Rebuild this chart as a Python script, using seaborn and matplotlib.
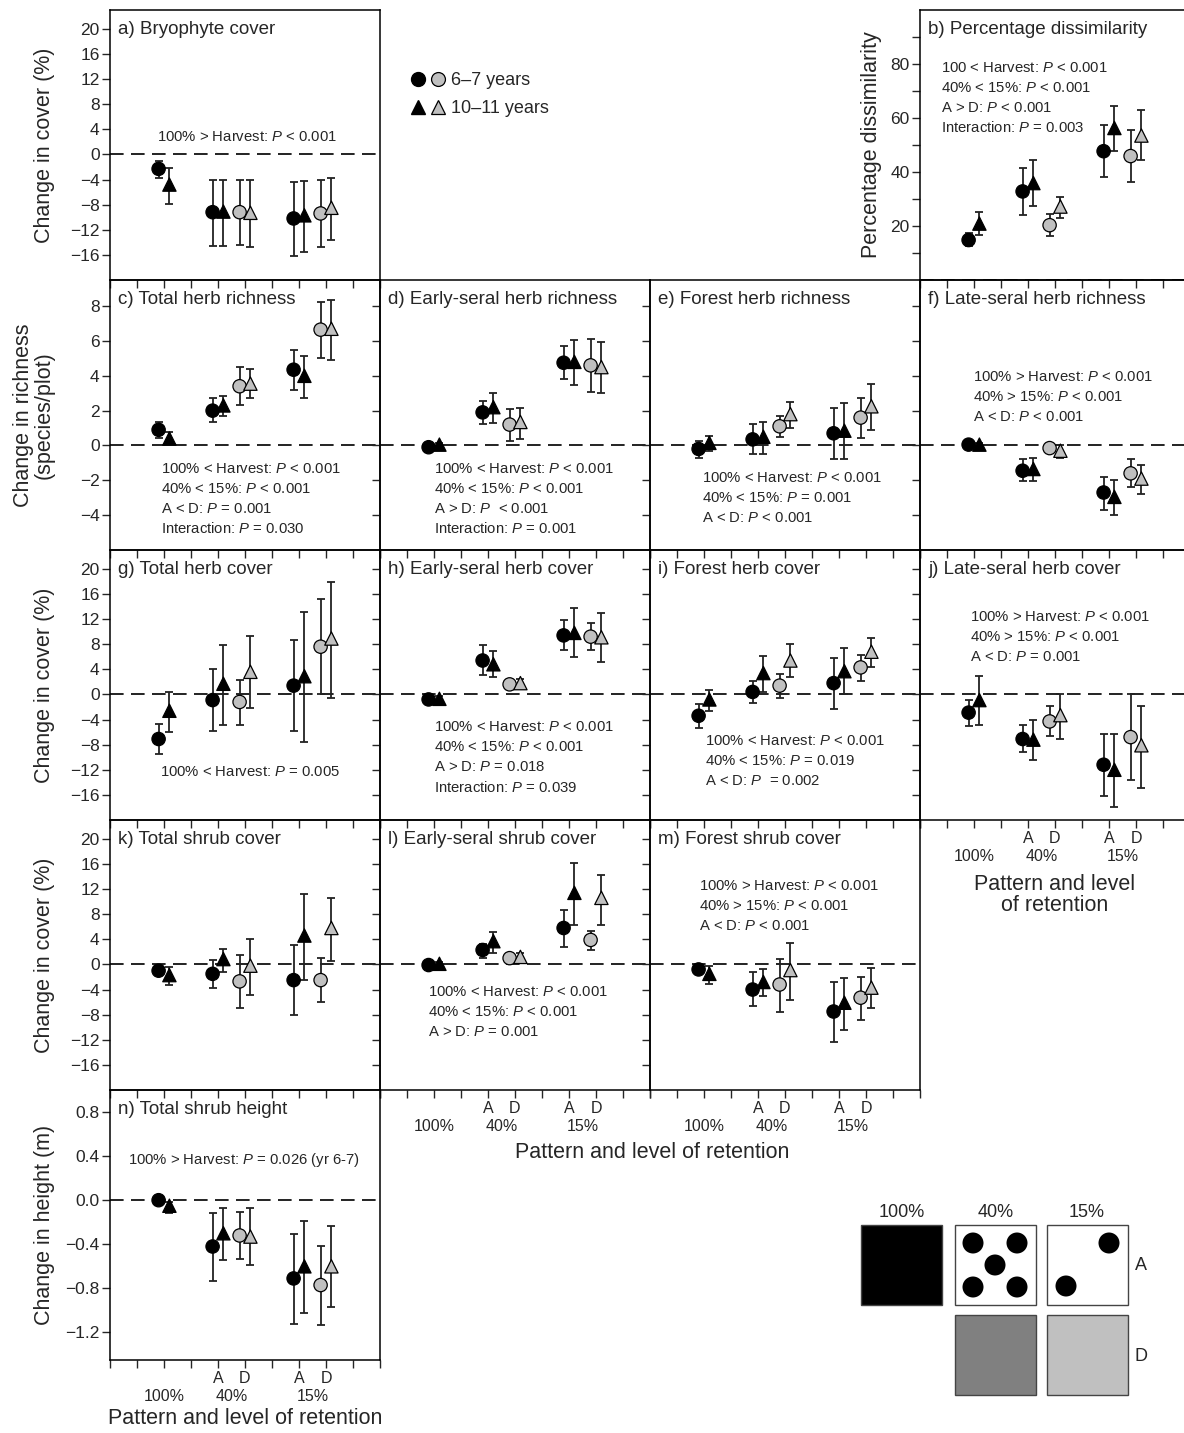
import numpy as np
import pandas as pd
import matplotlib
matplotlib.use("Agg")
import matplotlib.pyplot as plt
import matplotlib.transforms as mtransforms
import seaborn as sns
from matplotlib.lines import Line2D
from matplotlib.legend_handler import HandlerTuple
from matplotlib.patches import Rectangle, Circle

# treatment groups and sampling periods
groups = ["100%", "40% A", "40% D", "15% A", "15% D"]
years = ["6–7 years", "10–11 years"]

# (mean, lower, upper) per group
a_yr67 = [(-2.3, -3.7, -1.0), (-9.2, -14.6, -4.0), (-9.2, -14.5, -4.0), (-10.2, -16.1, -4.4), (-9.4, -14.8, -4.0)]
a_yr1011 = [(-4.8, -7.9, -2.1), (-9.1, -14.6, -4.0), (-9.3, -14.8, -4.0), (-9.7, -15.5, -4.2), (-8.5, -13.6, -3.7)]

b_yr67 = [(14.8, 12.5, 17.3), (32.8, 24.0, 41.5), (20.3, 16.3, 24.6), (47.7, 38.0, 57.3), (45.9, 36.2, 55.6)]
b_yr1011 = [(20.9, 16.6, 25.2), (35.9, 27.5, 44.3), (27.2, 23.0, 30.8), (56.3, 47.8, 64.6), (53.5, 44.5, 62.9)]

c_yr67 = [(0.9, 0.45, 1.35), (2.0, 1.35, 2.7), (3.4, 2.3, 4.5), (4.35, 3.2, 5.5), (6.65, 5.05, 8.25)]
c_yr1011 = [(0.4, 0.0, 0.8), (2.3, 1.7, 2.85), (3.55, 2.7, 4.4), (4.0, 2.75, 5.15), (6.7, 4.9, 8.35)]

d_yr67 = [(-0.1, -0.2, 0.0), (1.9, 1.25, 2.55), (1.2, 0.25, 2.1), (4.75, 3.8, 5.7), (4.6, 3.05, 6.1)]
d_yr1011 = [(0.05, -0.05, 0.15), (2.2, 1.3, 3.0), (1.35, 0.4, 2.15), (4.8, 3.5, 6.05), (4.5, 3.0, 5.95)]

e_yr67 = [(-0.2, -0.7, 0.25), (0.35, -0.5, 1.25), (1.1, 0.5, 1.7), (0.7, -0.8, 2.15), (1.6, 0.45, 2.7)]
e_yr1011 = [(0.15, -0.3, 0.55), (0.5, -0.5, 1.35), (1.8, 1.0, 2.5), (0.85, -0.8, 2.45), (2.25, 0.9, 3.55)]

f_yr67 = [(0.05, -0.05, 0.15), (-1.45, -2.05, -0.8), (-0.15, -0.25, -0.05), (-2.7, -3.7, -1.8), (-1.6, -2.4, -0.8)]
f_yr1011 = [(0.05, -0.05, 0.15), (-1.35, -2.05, -0.7), (-0.3, -0.7, 0.0), (-2.95, -4.0, -2.0), (-1.9, -2.8, -1.1)]

g_yr67 = [(-7.1, -9.5, -4.7), (-0.9, -5.9, 4.1), (-1.2, -4.9, 2.3), (1.4, -5.8, 8.6), (7.6, 0.0, 15.2)]
g_yr1011 = [(-2.6, -6.0, 0.4), (1.7, -4.9, 7.8), (3.6, -2.2, 9.3), (2.9, -7.6, 13.2), (8.9, -0.5, 17.9)]

h_yr67 = [(-0.8, -1.3, -0.3), (5.4, 3.1, 7.8), (1.6, 1.0, 2.2), (9.4, 7.1, 11.8), (9.2, 7.0, 11.3)]
h_yr1011 = [(-0.7, -1.1, -0.3), (4.8, 2.8, 6.9), (1.8, 1.2, 2.4), (9.8, 5.9, 13.7), (9.1, 5.2, 12.9)]

i_yr67 = [(-3.4, -5.3, -1.6), (0.4, -1.4, 2.2), (1.4, -0.5, 3.2), (1.8, -2.4, 5.8), (4.3, 2.2, 6.3)]
i_yr1011 = [(-0.8, -2.7, 0.7), (3.4, 0.4, 6.1), (5.4, 2.7, 8.0), (3.7, 0.0, 7.4), (6.8, 4.3, 9.0)]

j_yr67 = [(-2.9, -5.1, -0.9), (-7.1, -9.2, -4.8), (-4.3, -6.7, -1.9), (-11.2, -16.2, -6.3), (-6.8, -13.6, 0.0)]
j_yr1011 = [(-0.9, -4.9, 2.9), (-7.2, -10.5, -4.0), (-3.3, -7.1, 0.0), (-12.0, -18.0, -6.3), (-8.1, -14.9, -1.9)]

k_yr67 = [(-1.0, -1.5, -0.5), (-1.5, -3.8, 0.7), (-2.7, -6.9, 1.5), (-2.5, -8.1, 3.1), (-2.5, -6.0, 1.1)]
k_yr1011 = [(-1.7, -3.2, -0.4), (0.85, -1.2, 2.4), (-0.2, -4.9, 4.0), (4.6, -2.5, 11.2), (5.8, 0.5, 10.5)]

l_yr67 = [(-0.1, -0.5, 0.3), (2.3, 1.1, 3.3), (1.0, 0.6, 1.4), (5.8, 2.7, 8.7), (3.9, 2.3, 5.3)]
l_yr1011 = [(0.1, -0.2, 0.4), (3.7, 1.8, 5.2), (1.2, 0.5, 1.8), (11.4, 6.2, 16.2), (10.6, 6.3, 14.3)]

m_yr67 = [(-0.8, -1.3, -0.3), (-4.0, -6.7, -1.2), (-3.2, -7.5, 0.8), (-7.5, -12.3, -2.8), (-5.3, -8.8, -2.0)]
m_yr1011 = [(-1.5, -3.1, -0.3), (-2.8, -5.1, -0.7), (-0.9, -5.6, 3.4), (-6.1, -10.4, -2.1), (-3.7, -7.0, -0.6)]

n_yr67 = [(0.0, -0.04, 0.04), (-0.42, -0.73, -0.12), (-0.32, -0.53, -0.11), (-0.71, -1.12, -0.31), (-0.77, -1.13, -0.42)]
n_yr1011 = [(-0.05, -0.12, -0.02), (-0.3, -0.54, -0.07), (-0.33, -0.59, -0.07), (-0.6, -1.02, -0.19), (-0.6, -0.97, -0.23)]

panel_data = {
    "a": (a_yr67, a_yr1011), "b": (b_yr67, b_yr1011), "c": (c_yr67, c_yr1011),
    "d": (d_yr67, d_yr1011), "e": (e_yr67, e_yr1011), "f": (f_yr67, f_yr1011),
    "g": (g_yr67, g_yr1011), "h": (h_yr67, h_yr1011), "i": (i_yr67, i_yr1011),
    "j": (j_yr67, j_yr1011), "k": (k_yr67, k_yr1011), "l": (l_yr67, l_yr1011),
    "m": (m_yr67, m_yr1011), "n": (n_yr67, n_yr1011),
}

# x layout of the groups and the year offset
group_x = [2, 4, 5, 7, 8]
year_shift = [-0.2, 0.2]

rows = []
for key, series_pair in panel_data.items():
    for yi, (yr, series) in enumerate(zip(years, series_pair)):
        for gi, (g, (m, lo, hi)) in enumerate(zip(groups, series)):
            rows.append(dict(panel=key, group=g, year=yr, x=group_x[gi] + year_shift[yi],
                             mean=m, lo=lo, hi=hi, fill="grey" if g.endswith("D") else "dark"))
df = pd.DataFrame(rows)

sns.set_style("ticks")
plt.rcParams["font.family"] = ["Liberation Sans", "DejaVu Sans"]
plt.rcParams["mathtext.fontset"] = "custom"
plt.rcParams["mathtext.rm"] = "Liberation Sans"
plt.rcParams["mathtext.it"] = "Liberation Sans:italic"
plt.rcParams["axes.linewidth"] = 1.1
plt.rcParams["axes.edgecolor"] = "black"

W, H = 1184, 1433
fig = plt.figure(figsize=(W / 100, H / 100), dpi=100)

col_x = [110, 380, 650, 920]
row_y = [10, 280, 550, 820, 1090]
cover_ticks = list(range(-16, 21, 4))
rich_ticks = [-4, -2, 0, 2, 4, 6, 8]

panels = [
    ("a", 0, 0, "a) Bryophyte cover", (-20, 23), cover_ticks,
     ["100% > Harvest: $P$ < 0.001"], (0.174, 0.53)),
    ("b", 3, 0, "b) Percentage dissimilarity", (0, 100), list(range(10, 91, 10)),
     ["100 < Harvest: $P$ < 0.001", "40% < 15%: $P$ < 0.001", "A > D: $P$ < 0.001",
      "Interaction: $P$ = 0.003"], (0.078, 0.785)),
    ("c", 0, 1, "c) Total herb richness", (-6, 9.5), rich_ticks,
     ["100% < Harvest: $P$ < 0.001", "40% < 15%: $P$ < 0.001", "A < D: $P$ = 0.001",
      "Interaction: $P$ = 0.030"], (0.189, 0.30)),
    ("d", 1, 1, "d) Early-seral herb richness", (-6, 9.5), rich_ticks,
     ["100% < Harvest: $P$ < 0.001", "40% < 15%: $P$ < 0.001", "A > D: $P$  < 0.001",
      "Interaction: $P$ = 0.001"], (0.20, 0.30)),
    ("e", 2, 1, "e) Forest herb richness", (-6, 9.5), rich_ticks,
     ["100% < Harvest: $P$ < 0.001", "40% < 15%: $P$ = 0.001", "A < D: $P$ < 0.001"], (0.193, 0.267)),
    ("f", 3, 1, "f) Late-seral herb richness", (-6, 9.5), rich_ticks,
     ["100% > Harvest: $P$ < 0.001", "40% > 15%: $P$ < 0.001", "A < D: $P$ < 0.001"], (0.196, 0.64)),
    ("g", 0, 2, "g) Total herb cover", (-20, 23), cover_ticks,
     ["100% < Harvest: $P$ = 0.005"], (0.185, 0.178)),
    ("h", 1, 2, "h) Early-seral herb cover", (-20, 23), cover_ticks,
     ["100% < Harvest: $P$ < 0.001", "40% < 15%: $P$ < 0.001", "A > D: $P$ = 0.018",
      "Interaction: $P$ = 0.039"], (0.20, 0.344)),
    ("i", 2, 2, "i) Forest herb cover", (-20, 23), cover_ticks,
     ["100% < Harvest: $P$ < 0.001", "40% < 15%: $P$ = 0.019", "A < D: $P$  = 0.002"], (0.204, 0.293)),
    ("j", 3, 2, "j) Late-seral herb cover", (-20, 23), cover_ticks,
     ["100% > Harvest: $P$ < 0.001", "40% > 15%: $P$ < 0.001", "A < D: $P$ = 0.001"], (0.185, 0.752)),
    ("k", 0, 3, "k) Total shrub cover", (-20, 23), cover_ticks, [], (0, 0)),
    ("l", 1, 3, "l) Early-seral shrub cover", (-20, 23), cover_ticks,
     ["100% < Harvest: $P$ < 0.001", "40% < 15%: $P$ < 0.001", "A > D: $P$ = 0.001"], (0.178, 0.363)),
    ("m", 2, 3, "m) Forest shrub cover", (-20, 23), cover_ticks,
     ["100% > Harvest: $P$ < 0.001", "40% > 15%: $P$ < 0.001", "A < D: $P$ < 0.001"], (0.181, 0.756)),
    ("n", 0, 4, "n) Total shrub height", (-1.45, 1.0), [-1.2, -0.8, -0.4, 0.0, 0.4, 0.8],
     ["100% > Harvest: $P$ = 0.026 (yr 6-7)"], (0.067, 0.74)),
]

palette = {"dark": "black", "grey": "#c0c0c0"}
markers = {years[0]: "o", years[1]: "^"}


def fmt_tick(v, key):
    if key == "n":
        return f"{v:.1f}".replace("-", "\u2212")
    if key == "b":
        return str(int(v)) if v % 20 == 0 else ""
    return str(int(v)).replace("-", "\u2212")


def add_categories(ax):
    tr = mtransforms.blended_transform_factory(ax.transData, ax.transAxes)
    for xv, s in zip([4, 5, 7, 8], ["A", "D", "A", "D"]):
        ax.text(xv, -0.07, s, transform=tr, ha="center", va="center", fontsize=11.5)
    for xv, s in zip([2, 4.5, 7.5], ["100%", "40%", "15%"]):
        ax.text(xv, -0.137, s, transform=tr, ha="center", va="center", fontsize=11.5)


axes = {}
for key, col, row, title, ylim, yticks, notes, note_xy in panels:
    x0, y0 = col_x[col], row_y[row]
    ax = fig.add_axes([x0 / W, 1 - (y0 + 270) / H, 270 / W, 270 / H])
    ax.set_facecolor("none")
    axes[key] = ax
    sub = df[df.panel == key]

    ax.axhline(0, color="#222222", lw=1.4, linestyle=(0, (7, 3.8)), zorder=1)
    ax.errorbar(sub.x, sub["mean"], yerr=[sub["mean"] - sub.lo, sub.hi - sub["mean"]],
                fmt="none", ecolor="#222222", elinewidth=1.3, capsize=3.2, capthick=1.3, zorder=2)
    sns.scatterplot(data=sub, x="x", y="mean", hue="fill", style="year", palette=palette,
                    markers=markers, s=92, edgecolor="black", linewidth=0.9,
                    legend=False, ax=ax, zorder=3)
    ax.set_xlabel("")
    ax.set_ylabel("")

    ax.set_xlim(0, 10)
    ax.set_xticks(range(11))
    ax.set_xticklabels([])
    ax.set_ylim(*ylim)
    ax.set_yticks(yticks)
    if col == 0 or key == "b":
        ax.set_yticklabels([fmt_tick(v, key) for v in yticks])
    else:
        ax.set_yticklabels([])
    ax.tick_params(direction="out", length=5.5, width=1.0, labelsize=12.5, pad=2)
    for sp in ax.spines.values():
        sp.set_visible(True)
        sp.set_linewidth(1.1)

    ax.text(0.03, 0.927, title, transform=ax.transAxes, ha="left", va="center", fontsize=13.5)
    for li, line in enumerate(notes):
        ax.text(note_xy[0], note_xy[1] - 0.074 * li, line, transform=ax.transAxes,
                ha="left", va="center", fontsize=10.7)

for key in ["j", "l", "m", "n"]:
    add_categories(axes[key])

# axis titles
def ftext(x, y, s, **kw):
    fig.text(x / W, 1 - y / H, s, ha="center", va="center", **kw)

ftext(45, 145, "Change in cover (%)", rotation=90, fontsize=15.5)
ftext(872, 145, "Percentage dissimilarity", rotation=90, fontsize=15.5)
ftext(34, 415, "Change in richness\n(species/plot)", rotation=90, fontsize=15.5, linespacing=1.0)
ftext(45, 685, "Change in cover (%)", rotation=90, fontsize=15.5)
ftext(45, 955, "Change in cover (%)", rotation=90, fontsize=15.5)
ftext(45, 1225, "Change in height (m)", rotation=90, fontsize=15.5)
ftext(245, 1419, "Pattern and level of retention", fontsize=15.5)
ftext(652, 1152, "Pattern and level of retention", fontsize=15.5)
ftext(1055, 895, "Pattern and level\nof retention", fontsize=15.5, linespacing=1.05)

# legend for sampling period
h_dark_c = Line2D([], [], ls="", marker="o", ms=10, mfc="black", mec="black")
h_grey_c = Line2D([], [], ls="", marker="o", ms=10, mfc="#c0c0c0", mec="black", mew=0.9)
h_dark_t = Line2D([], [], ls="", marker="^", ms=10, mfc="black", mec="black")
h_grey_t = Line2D([], [], ls="", marker="^", ms=10, mfc="#c0c0c0", mec="black", mew=0.9)
fig.legend([(h_dark_c, h_grey_c), (h_dark_t, h_grey_t)], years,
           handler_map={tuple: HandlerTuple(ndivide=None, pad=0.25)},
           loc="upper left", bbox_to_anchor=(411 / W, 1 - 72 / H), frameon=False,
           fontsize=13, handlelength=1.9, handletextpad=0.3, labelspacing=0.6,
           borderpad=0, borderaxespad=0)

# retention pattern schematic
ax_s = fig.add_axes([850 / W, 1 - 1410 / H, 310 / W, 210 / H])
ax_s.set_xlim(850, 1160)
ax_s.set_ylim(1410, 1200)
ax_s.axis("off")
box = 81
boxes = [(861, 1225, "black"), (955, 1225, "white"), (1047, 1225, "white"),
         (955, 1315, "#808080"), (1047, 1315, "#c0c0c0")]
for bx, by, fc in boxes:
    ax_s.add_patch(Rectangle((bx, by), box, 80, fc=fc, ec="#444444", lw=1.0))
for cx, cy in [(18, 18), (62, 18), (40, 40), (18, 62), (62, 62)]:
    ax_s.add_patch(Circle((955 + cx, 1225 + cy), 10.5, fc="black", ec="none"))
for cx, cy in [(62, 18), (19, 61)]:
    ax_s.add_patch(Circle((1047 + cx, 1225 + cy), 10.5, fc="black", ec="none"))
for tx, s in [(902, "100%"), (996, "40%"), (1087, "15%")]:
    ax_s.text(tx, 1213, s, ha="center", va="center", fontsize=13)
ax_s.text(1141, 1266, "A", ha="center", va="center", fontsize=13)
ax_s.text(1141, 1357, "D", ha="center", va="center", fontsize=13)

fig.savefig("out.png", dpi=100)
